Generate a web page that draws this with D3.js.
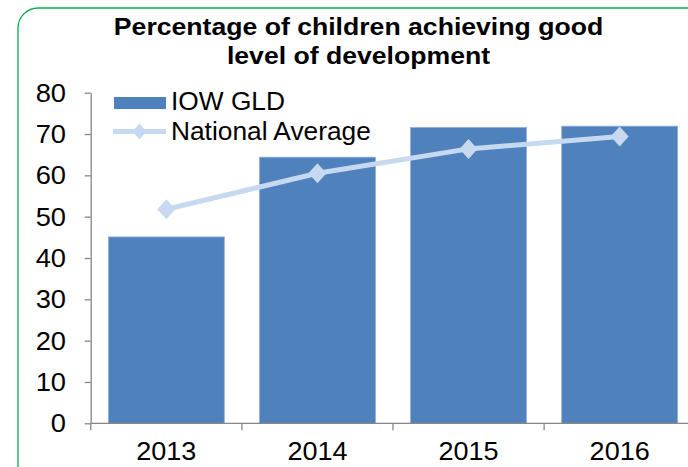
<!DOCTYPE html>
<html>
<head>
<meta charset="utf-8">
<script src="https://cdn.jsdelivr.net/npm/d3@7"></script>
<style>
  html, body { margin: 0; padding: 0; background: #fff; overflow: hidden; }
  svg { display: block; font-family: Arial, "Liberation Sans", sans-serif; }
</style>
</head>
<body>
<svg id="chart" width="688" height="467"></svg>
<script>
// Good level of development, Isle of Wight vs national average
const years = ["2013", "2014", "2015", "2016"];
const iowGLD = [45.1, 64.4, 71.6, 71.9];
const nationalAvg = [51.8, 60.5, 66.4, 69.4];
const yTicks = [0, 10, 20, 30, 40, 50, 60, 70, 80];
const titleLines = ["Percentage of children achieving good", "level of development"];
const seriesNames = ["IOW GLD", "National Average"];

const svg = d3.select("#chart");
const barColor = "#4F81BD";
const lineColor = "#C6D9F1";
const axisColor = "#868686";

// Diamond marker of given width and height, centred on the origin
const diamondPath = (w, h) => `M0,${-h / 2}L${w / 2},0L0,${h / 2}L${-w / 2},0Z`;

// Chart frame
svg.append("rect")
  .attr("x", 18).attr("y", 8)
  .attr("width", 700).attr("height", 480)
  .attr("rx", 20).attr("ry", 20)
  .attr("fill", "#fff")
  .attr("stroke", "#00B050").attr("stroke-width", 1.3);

// Title
svg.append("g").selectAll("text")
  .data(titleLines).join("text")
  .attr("transform", (d, i) => `translate(358.5,${34.7 + i * 29.5}) scale(1.1,1)`)
  .attr("text-anchor", "middle")
  .attr("font-size", 24.2).attr("font-weight", "bold")
  .attr("fill", "#000")
  .text(d => d);

const plot = { left: 90.7, right: 695.3, top: 92.7, bottom: 423.3 };

const x = d3.scaleBand().domain(years)
  .range([plot.left, plot.right])
  .paddingInner(0.233).paddingOuter(0.117);
const y = d3.scaleLinear().domain([0, 80]).range([plot.bottom, plot.top]);

// Bars
svg.append("g").selectAll("rect")
  .data(years).join("rect")
  .attr("x", d => x(d))
  .attr("y", (d, i) => y(iowGLD[i]))
  .attr("width", x.bandwidth())
  .attr("height", (d, i) => y(0) - y(iowGLD[i]))
  .attr("fill", barColor)
  .attr("stroke", "#8FAEDB").attr("stroke-width", 0.8);

// Y axis (labels drawn separately so they can be widened)
const yAxis = svg.append("g")
  .attr("transform", `translate(${plot.left},0)`)
  .call(d3.axisLeft(y).tickValues(yTicks).tickSize(6).tickSizeOuter(0).tickFormat(""));
yAxis.select(".domain").attr("stroke", axisColor).attr("stroke-width", 1.3);
yAxis.selectAll(".tick line").attr("stroke", axisColor).attr("stroke-width", 1.3);
svg.append("g").selectAll("text")
  .data(yTicks).join("text")
  .attr("transform", d => `translate(66,${y(d) + 8.9}) scale(1.05,1)`)
  .attr("text-anchor", "end")
  .attr("font-size", 26).attr("fill", "#000")
  .text(d => d);

// X axis: ticks sit on category boundaries
const xAxis = svg.append("g")
  .attr("transform", `translate(0,${plot.bottom})`);
xAxis.append("line")
  .attr("x1", plot.left).attr("x2", plot.right)
  .attr("stroke", axisColor).attr("stroke-width", 1.3);
const step = x.step();
const boundaries = d3.range(years.length + 1).map(i => x(years[0]) - x.paddingInner() * step / 2 + i * step);
xAxis.selectAll("line.tk")
  .data(boundaries).join("line").attr("class", "tk")
  .attr("x1", d => d).attr("x2", d => d)
  .attr("y1", 0).attr("y2", 7)
  .attr("stroke", axisColor).attr("stroke-width", 1.3);
xAxis.selectAll("text")
  .data(years).join("text")
  .attr("transform", d => `translate(${x(d) + x.bandwidth() / 2},37) scale(1.06,1)`)
  .attr("text-anchor", "middle")
  .attr("font-size", 25.5).attr("fill", "#000")
  .text(d => d);

// National average line with diamond markers
const lineGen = d3.line()
  .x((d, i) => x(years[i]) + x.bandwidth() / 2)
  .y(d => y(d));
svg.append("path")
  .datum(nationalAvg)
  .attr("d", lineGen)
  .attr("fill", "none")
  .attr("stroke", lineColor).attr("stroke-width", 5);

svg.append("g").selectAll("path")
  .data(nationalAvg).join("path")
  .attr("transform", (d, i) => `translate(${x(years[i]) + x.bandwidth() / 2},${y(d)})`)
  .attr("d", diamondPath(18, 20))
  .attr("fill", lineColor);

// Legend
const legend = svg.append("g");
legend.append("rect")
  .attr("x", 114).attr("y", 97).attr("width", 52).attr("height", 12)
  .attr("fill", barColor);
legend.append("line")
  .attr("x1", 113).attr("x2", 166).attr("y1", 131.5).attr("y2", 131.5)
  .attr("stroke", lineColor).attr("stroke-width", 5);
legend.append("path")
  .attr("transform", "translate(139.5,131.5)")
  .attr("d", diamondPath(14, 16))
  .attr("fill", lineColor);
legend.selectAll("text")
  .data(seriesNames).join("text")
  .attr("x", 171)
  .attr("y", (d, i) => 110 + i * 30)
  .attr("font-size", 26.3).attr("fill", "#000")
  .text(d => d);
</script>
</body>
</html>
